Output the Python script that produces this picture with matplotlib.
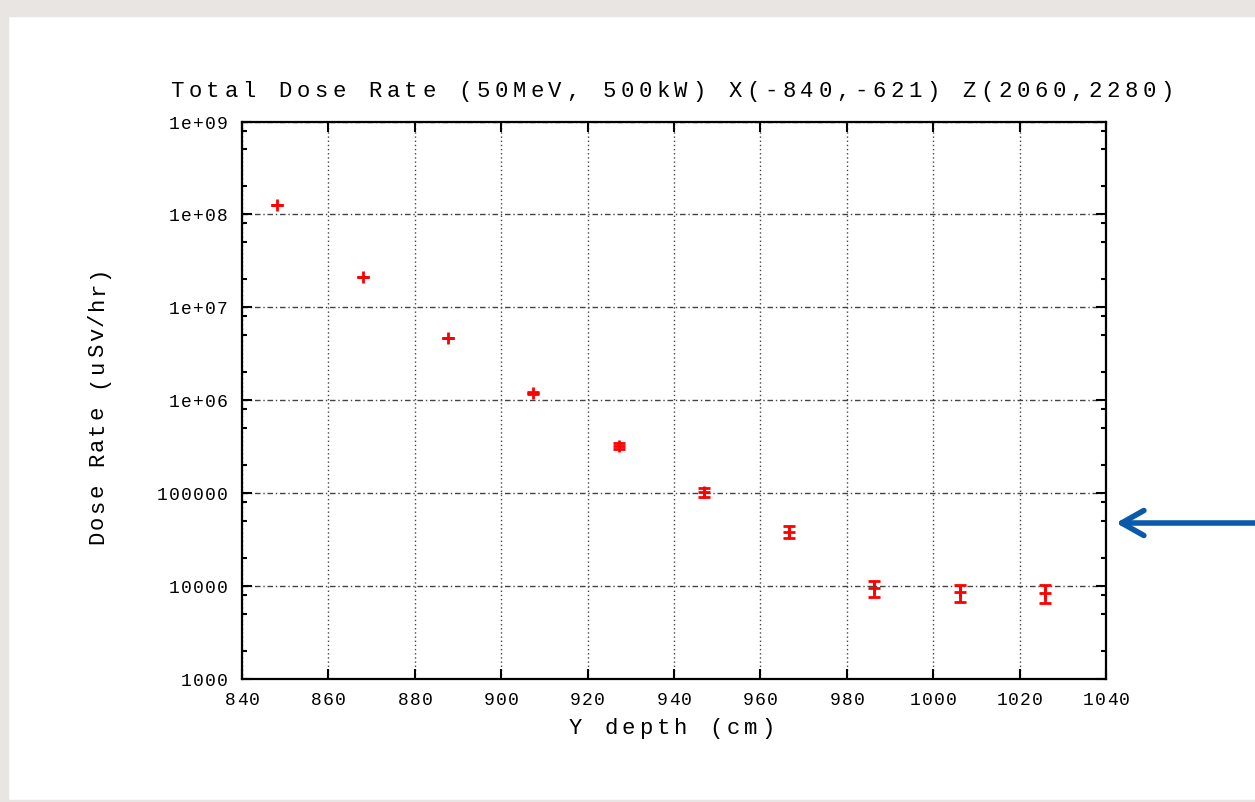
import numpy as np
import matplotlib
matplotlib.use("Agg")
import matplotlib.pyplot as plt
import matplotlib.transforms as mtransforms
from matplotlib.patches import Rectangle
from matplotlib.ticker import LogLocator, NullFormatter, FixedLocator

# ---------------------------------------------------------
# Data
# ---------------------------------------------------------
y_depth = [848.2, 867.9, 887.6, 907.4, 927.2, 946.9, 966.6, 986.4, 1006.1, 1025.9]
dose_rate = [1.25e8, 2.14e7, 4.73e6, 1.20e6, 3.24e5, 1.03e5, 3.85e4, 9.5e3, 8.6e3, 8.4e3]
dose_err = [0, 0, 0, 2.0e4, 2.4e4, 1.1e4, 5.3e3, 1.9e3, 1.8e3, 1.8e3]

x_ticks = [840, 860, 880, 900, 920, 940, 960, 980, 1000, 1020, 1040]
y_ticks = [1e3, 1e4, 1e5, 1e6, 1e7, 1e8, 1e9]
y_tick_labels = ["1000", "10000", "100000", "1e+06", "1e+07", "1e+08", "1e+09"]

title = "Total Dose Rate (50MeV, 500kW) X(-840,-621) Z(2060,2280)"
xlabel = "Y depth (cm)"
ylabel = "Dose Rate (uSv/hr)"

FONT = "Liberation Mono"
W, H = 1255, 803


def spaced(fig, x, y, s, transform, pitch, size, ha="center", dx0=0, dy0=0, rotation=0):
    # gnuplot-like letter spacing: put every character on its own pitch
    n = len(s)
    total = n * pitch
    if ha == "center":
        start = -total / 2 + pitch / 2
    elif ha == "right":
        start = -total + pitch / 2
    else:
        start = pitch / 2
    for i, ch in enumerate(s):
        d = start + i * pitch
        if rotation == 90:
            ox, oy = dx0, dy0 + d
        else:
            ox, oy = dx0 + d, dy0
        tr = mtransforms.offset_copy(transform, fig=fig, x=ox, y=oy, units="dots")
        fig.text(x, y, ch, transform=tr, ha="center", va="baseline",
                 rotation=rotation, rotation_mode="anchor",
                 family=FONT, fontsize=size, color="black")


fig = plt.figure(figsize=(W / 100, H / 100), dpi=100, facecolor="white")

# grey slide border
gray = "#E8E5E2"
fig.patches.append(Rectangle((0, 0), 8 / W, 1, transform=fig.transFigure, color=gray, zorder=0))
fig.patches.append(Rectangle((0, 1 - 17 / H), 1, 17 / H, transform=fig.transFigure, color=gray, zorder=0))
fig.patches.append(Rectangle((0, 0), 1, 2 / H, transform=fig.transFigure, color=gray, zorder=0))

ax_l, ax_r, ax_t, ax_b = 242, 1106, 122.5, 680
ax = fig.add_axes([ax_l / W, 1 - ax_b / H, (ax_r - ax_l) / W, (ax_b - ax_t) / H])

ax.errorbar(y_depth, dose_rate, yerr=dose_err, fmt="+", color="#FF0000",
            ms=9, mew=2, elinewidth=2, capsize=4, capthick=2, zorder=3)

ax.set_yscale("log")
ax.set_xlim(840, 1040)
ax.set_ylim(1e3, 1e9)

ax.xaxis.set_major_locator(FixedLocator(x_ticks))
ax.yaxis.set_major_locator(FixedLocator(y_ticks))
ax.yaxis.set_minor_locator(LogLocator(base=10, subs=[2, 5, 8]))
ax.xaxis.set_major_formatter(NullFormatter())
ax.yaxis.set_major_formatter(NullFormatter())
ax.yaxis.set_minor_formatter(NullFormatter())

ax.tick_params(which="both", direction="in", top=True, right=True, width=1.5, color="black")
ax.tick_params(which="major", length=7)
ax.tick_params(which="minor", length=3.5)
for sp in ax.spines.values():
    sp.set_linewidth(1.6)

ax.xaxis.grid(True, which="major", color="#444444", linestyle=(0, (1, 2)), linewidth=1)
ax.yaxis.grid(True, which="major", color="#444444", linestyle=(0, (4, 2, 1, 2)), linewidth=1)
ax.set_axisbelow(True)

# tick labels
xtr = mtransforms.blended_transform_factory(ax.transData, ax.transAxes)
for v in x_ticks:
    spaced(fig, v, 0, str(v), xtr, 12, 13, ha="center", dy0=-25)

ytr = mtransforms.blended_transform_factory(ax.transAxes, ax.transData)
for v, lab in zip(y_ticks, y_tick_labels):
    spaced(fig, 0, v, lab, ytr, 12, 13, ha="right", dx0=-14, dy0=-6)

# title and axis labels
spaced(fig, 672 / W, 1 - 97 / H, title, fig.transFigure, 18, 16, ha="center")
spaced(fig, 672 / W, 1 - 734 / H, xlabel, fig.transFigure, 17.5, 16, ha="center")
spaced(fig, 103 / W, 1 - 405 / H, ylabel, fig.transFigure, 15.6, 16, ha="center", rotation=90)

# blue pointer arrow on the right
ax.annotate("", xy=(1116, H - 524), xycoords="figure pixels",
            xytext=(1256, H - 524), textcoords="figure pixels",
            arrowprops=dict(arrowstyle="->, head_length=0.8, head_width=0.45",
                            color="#0B5AAA", lw=4, mutation_scale=20,
                            shrinkA=0, shrinkB=0),
            annotation_clip=False)

fig.savefig("out.png", dpi=100, facecolor=fig.get_facecolor())
